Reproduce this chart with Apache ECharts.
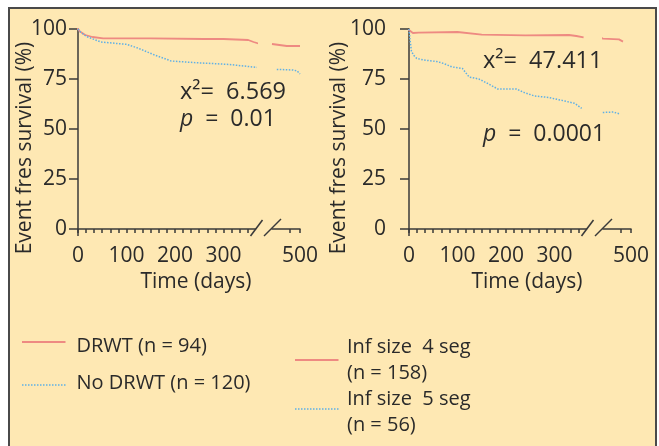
<!DOCTYPE html>
<html><head><meta charset="utf-8">
<script src="https://cdn.jsdelivr.net/npm/echarts@6/dist/echarts.min.js"></script>
<style>html,body{margin:0;padding:0;background:#fff}#c{width:659px;height:446px}</style>
</head><body><div id="c"></div>
<script>
// ---- data ----
const yTickValues = [0, 25, 50, 75, 100];
const xMainLabels = [0, 100, 200, 300];
const xAfterBreakLabels = [500];
const xAfterBreakTicks = [475, 500];
const breakDay = 400;

const leftNames = ['DRWT (n = 94)', 'No DRWT (n = 120)'];
const rightNames = [['Inf size  4 seg', '(n = 158)'], ['Inf size  5 seg', '(n = 56)']];

const drwt = [[-15,100],[0,100],[4,98.7],[15,97],[30,96],[52,95.3],[150,95.3],[260,95],[300,95],[351,94.5],[362,93.5],[378,92.3],
              [430,92.5],[467,91.5],[500,91.5]];
const noDrwt = [[0,100],[5,98.5],[18,96.2],[47,93.5],[101,92.3],[123,90.5],[158,87],[192,84],[240,83.2],[310,82.3],[369,80.8],
                [442,79.8],[483,79.5],[493,79],[500,77.5]];
const infSmall = [[-20,99.5],[0,99.5],[8,98],[20,98.2],[100,98.5],[150,97.2],[240,96.8],[330,97],[345,96.5],[360,95.8],
                  [414,96.2],[430,95.2],[470,94.8],[480,93.7]];
const infLarge = [[0,100],[2,95],[5,89],[9,87],[16,85.3],[30,84.5],[58,83.7],[71,82.8],[89,81],[110,80.3],[124,76],[144,75],[162,72.8],
                  [183,70],[221,70],[238,68.2],[259,66.5],[287,65.8],[321,64],[342,62.8],[356,60.3],
                  [422,58.2],[456,58.5],[472,57.5]];

const chi = ['6.569', '47.411'];
const pval = ['0.01', '0.0001'];

// ---- styles / layout ----
const FONT = '"Open Sans", "DejaVu Sans", sans-serif';
const TXT = '#2a2a2a';
const AX = '#3a3a3a';
const RED = '#EE8A82';
const BLUE = '#5FB0E6';
const BG = '#FEE8B3';
const redStyle = {color: RED, width: 1.8, type: 'solid'};
const blueStyle = {color: BLUE, width: 1.5, type: [1.5, 1.5]};

const panels = [
  {x0: 78, bx: 272, names: leftNames.map(n => [n]), curves: [drwt, noDrwt], labMargin: 11, yName: 25},
  {x0: 409, bx: 603, names: rightNames, curves: [infSmall, infLarge], labMargin: 23, yName: 339}
];
const TOP = 29, H = 200, WA = 177.5, WB = 28;

const grid = [], xAxis = [], yAxis = [], series = [];
const axisLineStyle = {color: AX, width: 1.5};
panels.forEach((p, pi) => {
  grid.push({left: p.x0, top: TOP, width: WA, height: H, containLabel: false});
  grid.push({left: p.bx, top: TOP, width: WB, height: H, containLabel: false});
  const gA = pi * 2, gB = pi * 2 + 1;
  xAxis.push({
    gridIndex: gA, type: 'value', min: 0, max: 366, interval: 50 / 3,
    axisLine: {show: true, onZero: false, lineStyle: axisLineStyle},
    axisTick: {show: true, length: 4, lineStyle: axisLineStyle},
    axisLabel: {
      color: TXT, fontFamily: FONT, fontSize: 21, margin: 17,
      formatter: v => { const r = Math.round(v); return (xMainLabels.includes(r) && Math.abs(v - r) < 0.01) ? String(r) : ''; },
      showMinLabel: true, showMaxLabel: false, hideOverlap: false
    },
    splitLine: {show: false}
  });
  xAxis.push({
    gridIndex: gB, type: 'value', min: 430, max: 500,
    axisLine: {show: true, onZero: false, lineStyle: axisLineStyle},
    axisTick: {show: true, length: 4, lineStyle: axisLineStyle, customValues: xAfterBreakTicks},
    axisLabel: {color: TXT, fontFamily: FONT, fontSize: 21, margin: 17, customValues: xAfterBreakLabels},
    splitLine: {show: false}
  });
  yAxis.push({
    gridIndex: gA, type: 'value', min: 0, max: 100, interval: 25,
    axisLine: {show: true, onZero: false, lineStyle: axisLineStyle},
    axisTick: {show: true, length: 9, lineStyle: axisLineStyle},
    axisLabel: {color: TXT, fontFamily: FONT, fontSize: 21, margin: p.labMargin,
      formatter: v => yTickValues.includes(v) ? String(v) : ''},
    splitLine: {show: false}
  });
  yAxis.push({gridIndex: gB, type: 'value', min: 0, max: 100, show: false, splitLine: {show: false}});

  p.curves.forEach((c, ci) => {
    const ls = ci === 0 ? redStyle : blueStyle;
    const common = {type: 'line', name: p.names[ci].join(' '), showSymbol: false, symbol: 'none', clip: false,
      lineStyle: ls, itemStyle: {color: ls.color}, animation: false, silent: true};
    series.push(Object.assign({}, common, {xAxisIndex: gA, yAxisIndex: gA, data: c.filter(d => d[0] < breakDay)}));
    series.push(Object.assign({}, common, {xAxisIndex: gB, yAxisIndex: gB, data: c.filter(d => d[0] >= breakDay)}));
  });
});

// decorations
const graphic = [];
graphic.push({type: 'rect', z: -10, shape: {x: 9, y: 8, width: 647, height: 460},
  style: {fill: BG, stroke: '#4a4a4a', lineWidth: 2}});
panels.forEach((p, pi) => {
  const base = TOP + H;
  const s1 = p.x0 + WA - 5, s2 = p.bx - 8;
  graphic.push({type: 'line', shape: {x1: s1, y1: base + 7, x2: s1 + 12, y2: base - 9}, style: {stroke: AX, lineWidth: 1.5}});
  graphic.push({type: 'line', shape: {x1: s2, y1: base + 7, x2: s2 + 17, y2: base - 10}, style: {stroke: AX, lineWidth: 1.5}});
  graphic.push({type: 'line', shape: {x1: p.x0, y1: base, x2: p.x0, y2: base + 7}, style: {stroke: AX, lineWidth: 1.5}});
  graphic.push({type: 'text', x: p.x0 + 118, y: 282, style: {text: 'Time (days)', font: '21px ' + FONT, fill: TXT, align: 'center', verticalAlign: 'middle'}});
  graphic.push({type: 'text', x: p.yName, y: 148, rotation: Math.PI / 2,
    style: {text: 'Event fres survival (%)', font: '21px ' + FONT, fill: TXT, align: 'center', verticalAlign: 'middle'}});
});
// statistics
const stat = [{x: 180, y1: 92, y2: 119}, {x: 483, y1: 61, y2: 134}];
stat.forEach((s, i) => {
  graphic.push({type: 'text', x: s.x, y: s.y1, style: {text: 'x\u00B2=  ' + chi[i], font: '23.5px ' + FONT, fill: TXT, align: 'left', verticalAlign: 'middle'}});
  graphic.push({type: 'text', x: s.x, y: s.y2, style: {text: '{i|p}  =  ' + pval[i], font: '23px ' + FONT, fill: TXT, align: 'left', verticalAlign: 'middle',
    rich: {i: {fontStyle: 'italic', fontFamily: FONT, fontSize: 23, fill: TXT}}}});
});
// legend (drawn with the series' own line styles)
const legendItems = [
  {x: 22, lineY: 342, textX: 76.5, textY: [346], names: panels[0].names[0], ls: redStyle},
  {x: 22, lineY: 385, textX: 76.5, textY: [383], names: panels[0].names[1], ls: blueStyle},
  {x: 295, lineY: 360, textX: 347, textY: [347, 373], names: panels[1].names[0], ls: redStyle},
  {x: 295, lineY: 409, textX: 347, textY: [399, 425], names: panels[1].names[1], ls: blueStyle}
];
legendItems.forEach(it => {
  graphic.push({type: 'line', shape: {x1: it.x, y1: it.lineY, x2: it.x + 43.5, y2: it.lineY},
    style: {stroke: it.ls.color, lineWidth: it.ls.width, lineDash: Array.isArray(it.ls.type) ? it.ls.type : null}});
  it.names.forEach((t, k) => {
    graphic.push({type: 'text', x: it.textX, y: it.textY[k], style: {text: t, font: '20px ' + FONT, fill: TXT, align: 'left', verticalAlign: 'middle'}});
  });
});

const chart = echarts.init(document.getElementById('c'), null, {renderer: 'canvas'});
chart.setOption({
  backgroundColor: '#ffffff',
  animation: false,
  grid, xAxis, yAxis, series, graphic
});
</script></body></html>
